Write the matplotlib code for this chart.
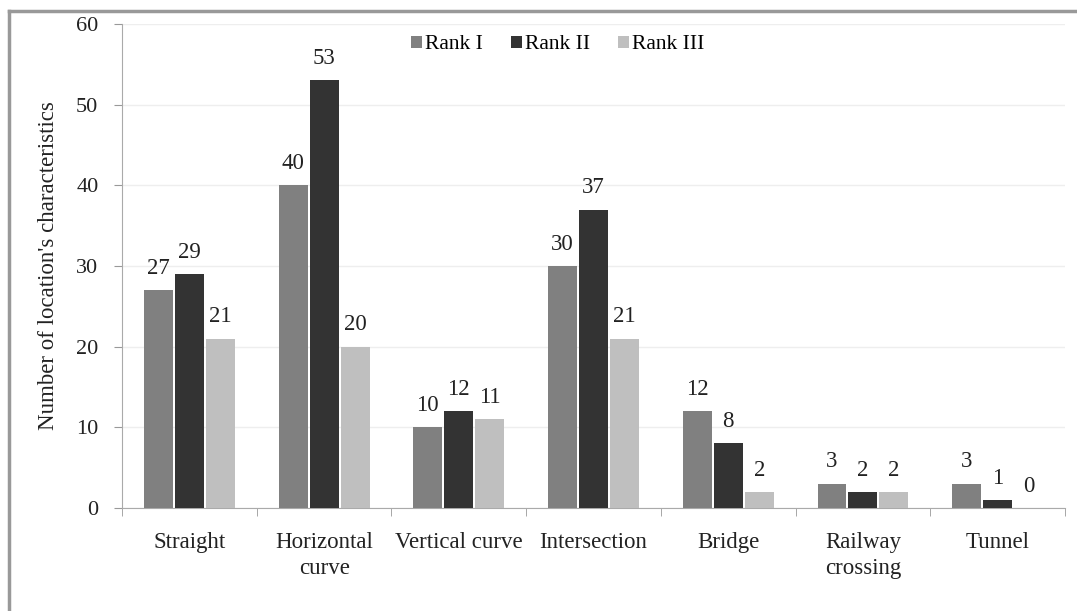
import numpy as np
import matplotlib
matplotlib.use("Agg")
import matplotlib.pyplot as plt
from matplotlib.lines import Line2D

plt.rcParams["font.family"] = ["Liberation Serif", "DejaVu Serif"]

categories = ["Straight", "Horizontal\ncurve", "Vertical curve", "Intersection",
              "Bridge", "Railway\ncrossing", "Tunnel"]
rank1 = [27, 40, 10, 30, 12, 3, 3]
rank2 = [29, 53, 12, 37, 8, 2, 1]
rank3 = [21, 20, 11, 21, 2, 2, 0]
series_names = ["Rank I", "Rank II", "Rank III"]
colors = ["#808080", "#333333", "#bfbfbf"]

fig = plt.figure(figsize=(10.77, 6.11), dpi=100)
ax = fig.add_axes([0.1133, 0.1686, 0.8756, 0.7921])

x = np.arange(len(categories))
width = 0.215
offsets = [-0.23, 0.0, 0.23]
for vals, name, col, off in zip([rank1, rank2, rank3], series_names, colors, offsets):
    bars = ax.bar(x + off, vals, width, color=col, label=name, zorder=3)
    for b, v in zip(bars, vals):
        ax.text(b.get_x() + b.get_width() / 2, v + 1.4, str(v),
                ha="center", va="bottom", fontsize=16.5, color="#222222")

ax.set_xlim(-0.5, 6.5)
ax.set_ylim(0, 60)
ax.set_yticks(range(0, 61, 10))
ax.set_xticks(x)
ax.set_xticklabels(categories, fontsize=16.5, color="#222222", linespacing=1.35)
ax.tick_params(axis="x", length=0, pad=17)
ax.set_xticks(np.arange(-0.5, 7, 1), minor=True)
ax.tick_params(axis="x", which="minor", length=6, color="#999999", direction="out")
ax.tick_params(axis="y", labelsize=16, length=6, color="#999999", pad=11, labelcolor="#222222")
ax.grid(axis="y", color="#eeeeee", linewidth=1, zorder=0)
for s in ["top", "right"]:
    ax.spines[s].set_visible(False)
ax.spines["left"].set_color("#aaaaaa")
ax.spines["bottom"].set_color("#aaaaaa")
ax.set_ylabel("Number of location's characteristics", fontsize=16.5, color="#222222", labelpad=12)

ax.legend(loc="center", bbox_to_anchor=(0.462, 0.957), ncol=3, frameon=False,
          fontsize=15.5, handlelength=0.5, handleheight=0.5, handletextpad=0.15,
          columnspacing=1.3)

# figure border (top and left visible)
fig.add_artist(Line2D([9 / 1077, 9 / 1077], [0, 1 - 11 / 611], color="#999999", lw=2.5))
fig.add_artist(Line2D([9 / 1077, 1], [1 - 11 / 611, 1 - 11 / 611], color="#999999", lw=2.5))

fig.savefig("out.png", dpi=100)
